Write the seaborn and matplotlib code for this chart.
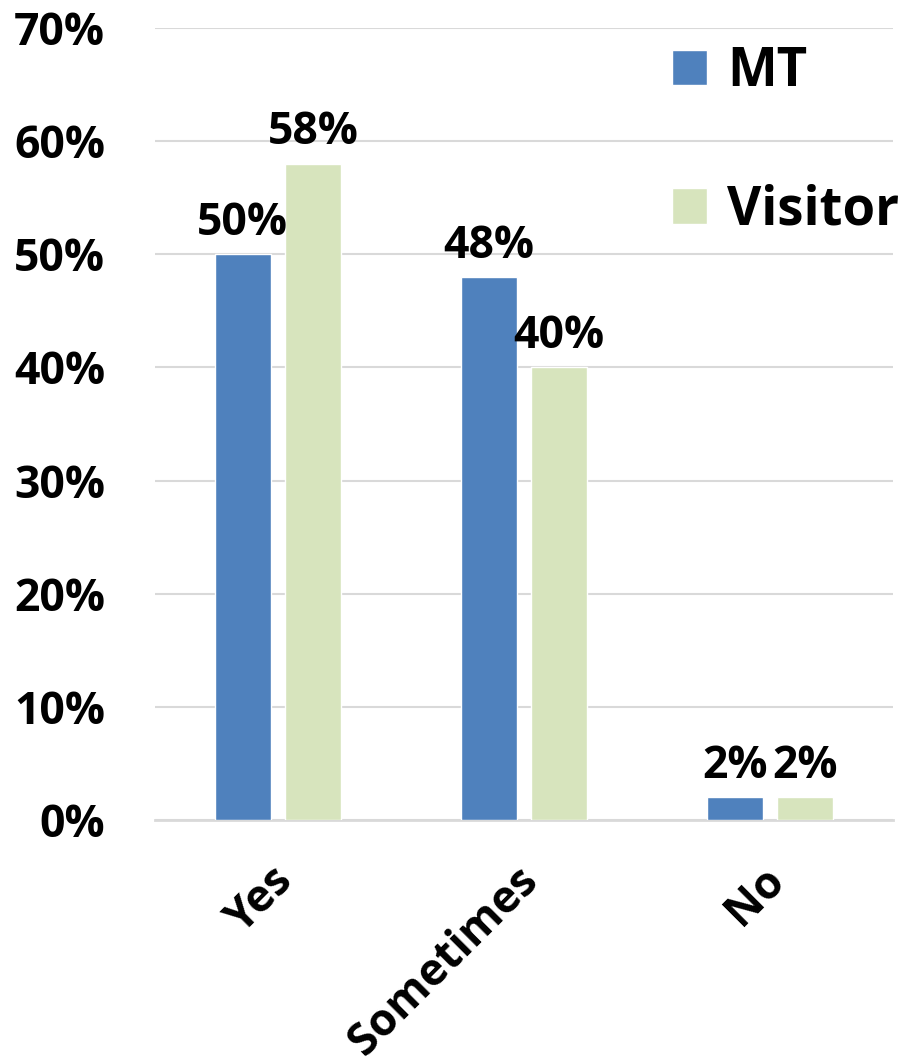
import pandas as pd
import numpy as np
import matplotlib
matplotlib.use("Agg")
import matplotlib.pyplot as plt
import matplotlib.transforms as mtransforms
import seaborn as sns

categories = ["Yes", "Sometimes", "No"]
series = ["MT", "Visitor"]
mt_values = [50, 48, 2]
visitor_values = [58, 40, 2]
colors = {"MT": "#4F81BD", "Visitor": "#D7E4BD"}

df = pd.DataFrame({
    "answer": categories * 2,
    "group": ["MT"] * 3 + ["Visitor"] * 3,
    "pct": mt_values + visitor_values,
})

sns.set_style("white")
plt.rcParams['font.family'] = ['Open Sans', 'DejaVu Sans']
plt.rcParams['font.weight'] = 'bold'
plt.rcParams['text.color'] = 'black'
plt.rcParams['xtick.color'] = 'black'
plt.rcParams['ytick.color'] = 'black'

fig = plt.figure(figsize=(9.02, 10.61), dpi=100)
ax = fig.add_axes([155 / 902, 241 / 1061, 738 / 902, 792 / 1061])

sns.barplot(data=df, x="answer", y="pct", hue="group", order=categories,
            hue_order=series, palette=colors, width=0.572, gap=0.2,
            saturation=1, ax=ax, zorder=3)

ax.set_ylim(0, 70)
ax.set_xlim(-0.5, 2.5)
ax.set_yticks(range(0, 71, 10))
ax.set_yticklabels([f"{t}%" for t in range(0, 71, 10)], fontsize=32, fontweight='bold')
ax.yaxis.grid(True, color="#D9D9D9", lw=1.5, zorder=0)
ax.set_axisbelow(True)
for s in ["left", "right", "top"]:
    ax.spines[s].set_visible(False)
ax.spines["bottom"].set_color("#D9D9D9")
ax.spines["bottom"].set_linewidth(2)
ax.tick_params(axis="y", length=0, pad=36)
ax.tick_params(axis="x", length=0, pad=39)
ax.set_xticks(range(len(categories)))
ax.set_xticklabels(categories, fontsize=32, fontweight='bold', rotation=45,
                   ha="right", va="center", rotation_mode="anchor")
shift = mtransforms.ScaledTranslation(8 / 100, 0, fig.dpi_scale_trans)
for lab in ax.get_xticklabels():
    lab.set_transform(lab.get_transform() + shift)
ax.set_xlabel("")
ax.set_ylabel("")

for c in ax.containers:
    ax.bar_label(c, labels=[f"{v:.0f}%" for v in c.datavalues], padding=6,
                 fontsize=32, fontweight='bold')

leg = ax.legend(loc="upper right", bbox_to_anchor=(899 / 902, 1016 / 1061),
                bbox_transform=fig.transFigure, frameon=False, borderpad=0,
                borderaxespad=0, fontsize=38, handlelength=0.66, handleheight=0.66,
                handletextpad=0.38, labelspacing=1.6)
for t in leg.get_texts():
    t.set_fontweight('bold')

fig.savefig("out.png", dpi=100)
